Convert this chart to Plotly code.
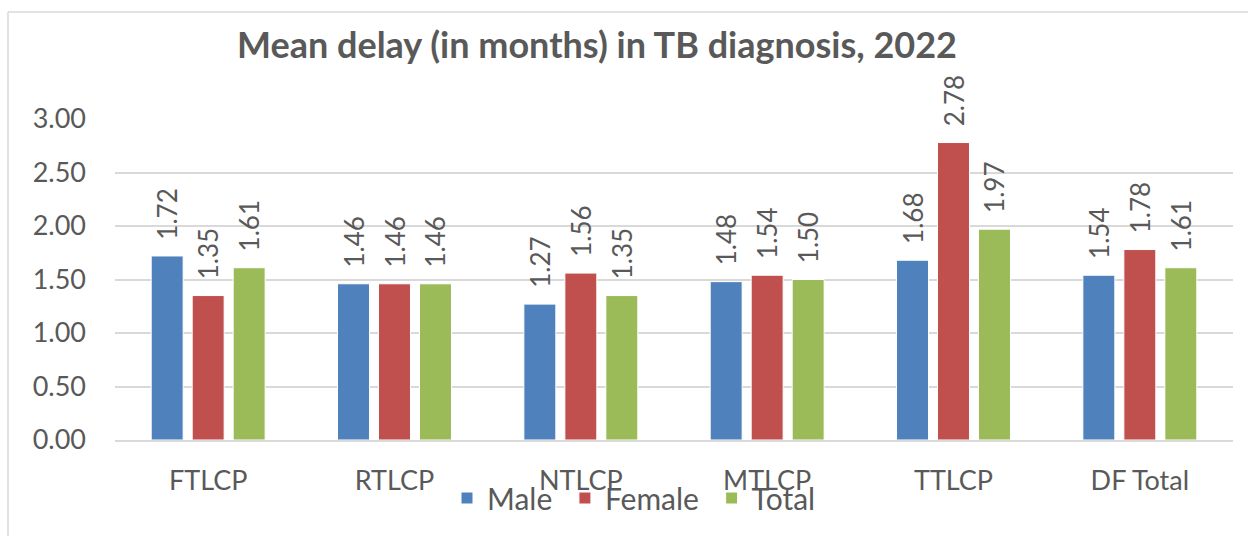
import plotly.graph_objects as go

categories = ["FTLCP", "RTLCP", "NTLCP", "MTLCP", "TTLCP", "DF Total"]
male = [1.72, 1.46, 1.27, 1.48, 1.68, 1.54]
female = [1.35, 1.46, 1.56, 1.54, 2.78, 1.78]
total = [1.61, 1.46, 1.35, 1.50, 1.97, 1.61]
series = [("Male", male, "#4F81BD"), ("Female", female, "#C0504D"), ("Total", total, "#9BBB59")]
yticks = [0, 0.5, 1.0, 1.5, 2.0, 2.5, 3.0]

FONT = "Lato, 'Open Sans', sans-serif"
TXT = "#595959"
NB = "\u00a0"

W, H = 1248, 536
L, R, T, B = 115, 15, 119, 96
pw, ph = W - L - R, H - T - B

fig = go.Figure()
for i, (name, vals, col) in enumerate(series):
    legend_name = name + (NB if i < len(series) - 1 else "")
    fig.add_trace(go.Bar(
        x=categories, y=vals, name=legend_name,
        marker=dict(color=col, line=dict(color="white", width=1)),
        text=[NB * 2 + f"{v:.2f}" for v in vals], textposition="outside",
        textangle=-90, constraintext="none",
        textfont=dict(family=FONT, size=26, color=TXT),
        cliponaxis=False,
    ))

def px_x(p):
    return (p - L) / pw

def px_y(p):
    return (H - B - p) / ph

fig.update_layout(
    width=W, height=H,
    margin=dict(l=L, r=R, t=T, b=B),
    paper_bgcolor="white", plot_bgcolor="white",
    barmode="group", bargap=0.34, bargroupgap=0.22,
    font=dict(family=FONT, color=TXT, size=27),
    title=dict(text="<b>Mean delay (in months) in TB diagnosis, 2022</b>",
               x=597 / W, xanchor="center", y=1 - 45 / H, yanchor="middle",
               font=dict(family=FONT, size=36, color=TXT)),
    showlegend=True,
    legend=dict(orientation="h", x=px_x(634), xanchor="center",
                y=px_y(498), yanchor="middle",
                font=dict(family=FONT, size=30, color=TXT),
                itemwidth=30, bgcolor="rgba(0,0,0,0)", traceorder="normal"),
    xaxis=dict(showgrid=False, showline=True, linecolor="#d9d9d9", linewidth=1.5,
               ticks="", tickfont=dict(size=27, color=TXT), ticklabelstandoff=16,
               automargin=False),
    yaxis=dict(range=[0, 3.0], tickvals=yticks, ticktext=[f"{v:.2f}" for v in yticks],
               showgrid=True, gridcolor="#d9d9d9", gridwidth=1.5, zeroline=False,
               showline=False, ticks="", tickfont=dict(size=27, color=TXT),
               ticklabelstandoff=28, automargin=False),
    shapes=[
        dict(type="line", xref="paper", yref="paper",
             x0=px_x(8), x1=px_x(8), y0=px_y(12), y1=px_y(560),
             line=dict(color="#d9d9d9", width=1.5)),
        dict(type="line", xref="paper", yref="paper",
             x0=px_x(8), x1=px_x(1260), y0=px_y(12), y1=px_y(12),
             line=dict(color="#d9d9d9", width=1.5)),
    ],
)

fig.write_html("out.html", config={"displayModeBar": False},
               post_script="document.body.style.margin='0';document.body.style.overflow='hidden';")
